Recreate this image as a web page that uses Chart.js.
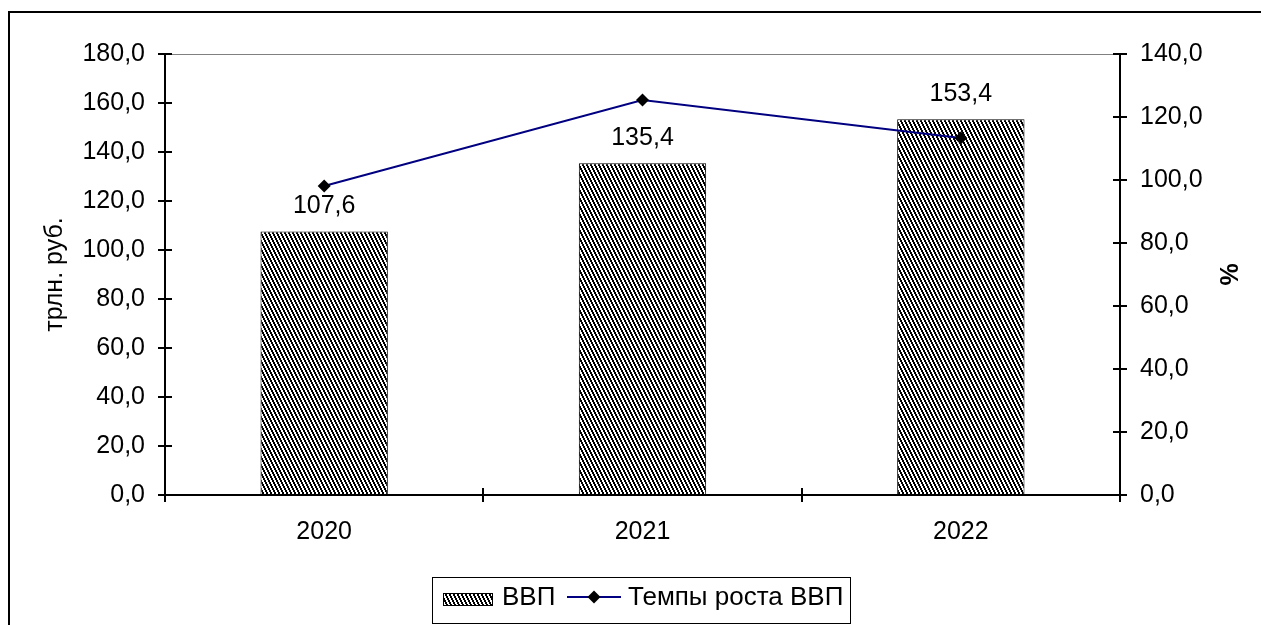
<!DOCTYPE html>
<html>
<head>
<meta charset="utf-8">
<script src="https://cdn.jsdelivr.net/npm/chart.js@4"></script>
<style>
  html, body { margin: 0; padding: 0; background: #fff; }
  #wrap { width: 1261px; height: 625px; position: relative; }
</style>
</head>
<body>
<div id="wrap"><canvas id="myChart"></canvas></div>
<script>
const years = ['2020', '2021', '2022']
const gdp = [107.6, 135.4, 153.4]
const growth = [98.1, 125.4, 113.3]
const leftTicks = [0, 20, 40, 60, 80, 100, 120, 140, 160, 180]
const rightTicks = [0, 20, 40, 60, 80, 100, 120, 140]

const FONT = '"Liberation Sans", Arial, sans-serif'

function fmt(v){
    return v.toFixed(1).replace('.', ',')
}

function makeHatch(){
    const c = document.createElement('canvas')
    c.width = 4
    c.height = 8
    const g = c.getContext('2d')
    g.fillStyle = '#fff'
    g.fillRect(0, 0, 4, 8)
    g.fillStyle = '#000'
    for (let y = 0; y < 8; y++) {
        const s = Math.floor(y / 2)
        for (let x = 0; x < 4; x++) {
            if (((x - s) % 4 + 4) % 4 < 2) g.fillRect(x, y, 1, 1)
        }
    }
    return g.createPattern(c, 'repeat')
}
const hatch = makeHatch()

const extras = {
    id: 'extras',
    afterDraw(chart){
        const ctx = chart.ctx
        const x = chart.scales.x
        const y = chart.scales.y
        const y1 = chart.scales.y1
        const area = chart.chartArea
        ctx.save()

        // outer frame
        ctx.fillStyle = '#000'
        ctx.fillRect(8, 11, 1261, 2)
        ctx.fillRect(8, 11, 2, 625)

        // plot top line
        ctx.fillStyle = '#808080'
        ctx.fillRect(area.left, area.top, area.right - area.left, 1)

        // axes
        ctx.fillStyle = '#000'
        ctx.fillRect(area.left - 1, area.top, 2, area.bottom - area.top + 1)
        ctx.fillRect(area.right - 1, area.top, 2, area.bottom - area.top + 1)
        ctx.fillRect(area.left, area.bottom - 1, area.right - area.left, 2)

        leftTicks.forEach(v => {
            const py = Math.round(y.getPixelForValue(v))
            ctx.fillRect(area.left - 7, py - 1, 14, 2)
        })
        rightTicks.forEach(v => {
            const py = Math.round(y1.getPixelForValue(v))
            ctx.fillRect(area.right - 7, py - 1, 14, 2)
        })
        for (let i = 0; i <= years.length; i++) {
            const px = Math.round(x.getPixelForValue(i - 0.5))
            ctx.fillRect(px - 1, area.bottom - 7, 2, 14)
        }

        // bar value labels
        ctx.font = '25px ' + FONT
        ctx.textAlign = 'center'
        ctx.textBaseline = 'alphabetic'
        const barMeta = chart.getDatasetMeta(1)
        barMeta.data.forEach((bar, i) => {
            ctx.fillText(fmt(gdp[i]), bar.x, bar.y - 18)
        })

        // axis titles
        ctx.save()
        ctx.translate(62, (area.top + area.bottom) / 2)
        ctx.rotate(-Math.PI / 2)
        ctx.fillText('трлн. руб.', 0, 0)
        ctx.restore()

        ctx.save()
        ctx.translate(1238, (area.top + area.bottom) / 2)
        ctx.rotate(-Math.PI / 2)
        ctx.font = 'bold 25px ' + FONT
        ctx.fillText('%', 0, 0)
        ctx.restore()

        // legend
        ctx.lineWidth = 1
        ctx.strokeStyle = '#000'
        ctx.strokeRect(432.5, 577.5, 418, 46)

        ctx.fillStyle = hatch
        ctx.fillRect(443, 593, 50, 13)
        ctx.strokeRect(443.5, 593.5, 49, 12)

        ctx.font = '26px ' + FONT
        ctx.fillStyle = '#000'
        ctx.textAlign = 'left'
        ctx.fillText('ВВП', 502, 605)

        ctx.strokeStyle = '#000080'
        ctx.lineWidth = 2
        ctx.beginPath()
        ctx.moveTo(567, 597)
        ctx.lineTo(621, 597)
        ctx.stroke()
        ctx.fillStyle = '#000'
        ctx.beginPath()
        ctx.moveTo(594, 590.5)
        ctx.lineTo(600.5, 597)
        ctx.lineTo(594, 603.5)
        ctx.lineTo(587.5, 597)
        ctx.closePath()
        ctx.fill()

        ctx.fillText('Темпы роста ВВП', 628, 605)

        ctx.restore()
    }
}

const data = {
    labels: years,
    datasets: [{
        type: 'line',
        label: 'Темпы роста ВВП',
        data: growth,
        yAxisID: 'y1',
        borderColor: '#000080',
        borderWidth: 2,
        pointStyle: 'rectRot',
        pointRadius: 6.5,
        pointBorderWidth: 0,
        pointBackgroundColor: '#000',
        pointBorderColor: '#000',
        fill: false,
        tension: 0
    }, {
        type: 'bar',
        label: 'ВВП',
        data: gdp,
        yAxisID: 'y',
        backgroundColor: hatch,
        borderColor: '#000',
        borderWidth: 1,
        categoryPercentage: 1,
        barPercentage: 0.4
    }]
}

const config = {
    data: data,
    options: {
        responsive: true,
        maintainAspectRatio: false,
        animation: false,
        layout: { padding: { top: 54, left: 0, right: 0, bottom: 0 } },
        plugins: {
            legend: { display: false },
            tooltip: { enabled: false }
        },
        scales: {
            x: {
                offset: true,
                grid: { display: false, drawTicks: false },
                border: { display: false },
                ticks: { color: '#000', font: { family: FONT, size: 25 }, padding: 22 },
                afterFit(scale){ scale.height = 130 }
            },
            y: {
                position: 'left',
                min: 0,
                max: 180,
                grid: { display: false, drawTicks: false },
                border: { display: false },
                ticks: {
                    stepSize: 20,
                    color: '#000',
                    font: { family: FONT, size: 25 },
                    padding: 20,
                    callback: v => fmt(v)
                },
                afterFit(scale){ scale.width = 165 }
            },
            y1: {
                position: 'right',
                min: 0,
                max: 140,
                grid: { display: false, drawTicks: false },
                border: { display: false },
                ticks: {
                    stepSize: 20,
                    color: '#000',
                    font: { family: FONT, size: 25 },
                    padding: 20,
                    callback: v => fmt(v)
                },
                afterFit(scale){ scale.width = 141 }
            }
        }
    },
    plugins: [extras]
}

new Chart(document.getElementById('myChart'), config)
</script>
</body>
</html>
